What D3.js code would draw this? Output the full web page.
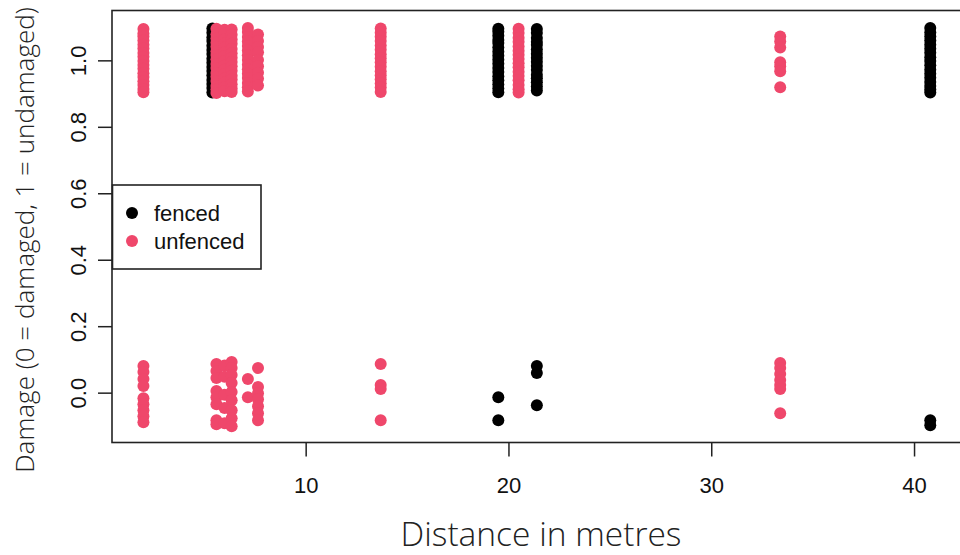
<!DOCTYPE html>
<meta charset="utf-8" />
<title>Damage by distance</title>
<style>
  body { margin: 0; background: #fff; }
  .tick text { font: 22px "Liberation Sans", Arial, sans-serif; fill: #111; }
  .title { font-family: "Open Sans", sans-serif; font-weight: 300; fill: #222; }
  .legend text { font: 22px "Liberation Sans", Arial, sans-serif; fill: #111; }
</style>
<body>
<script src="https://cdn.jsdelivr.net/npm/d3@7"></script>
<script>
  // distances (m) of each column of points, and the jittered damage values in it
  var fencedDist = [5.4, 19.5, 21.4, 40.8];
  var fencedTop = [
    [1.096, 1.083, 1.069, 1.058, 1.044, 1.031, 1.019, 1.005, 0.993, 0.980, 0.968, 0.955, 0.941, 0.929, 0.917, 0.903],
    [1.095, 1.086, 1.074, 1.061, 1.052, 1.039, 1.026, 1.014, 1.002, 0.990, 0.977, 0.965, 0.952, 0.940, 0.927, 0.915, 0.904],
    [1.094, 1.082, 1.067, 1.055, 1.046, 1.033, 1.020, 1.008, 0.996, 0.983, 0.971, 0.957, 0.946, 0.934, 0.921, 0.909],
    [1.097, 1.084, 1.072, 1.060, 1.047, 1.035, 1.023, 1.009, 0.998, 0.985, 0.972, 0.960, 0.948, 0.935, 0.923, 0.912, 0.903]
  ];
  var fencedBottom = [
    [],
    [-0.014, -0.083],
    [0.080, 0.059, -0.038],
    [-0.083, -0.098]
  ];

  var unfencedDist = [2.0, 5.6, 6.0, 6.35, 7.15, 7.65, 13.7, 20.5, 33.4];
  var unfencedTop = [
    [1.094, 1.081, 1.072, 1.060, 1.047, 1.036, 1.022, 1.011, 0.998, 0.986, 0.975, 0.961, 0.950, 0.937, 0.926, 0.914, 0.904],
    [1.095, 1.078, 1.066, 1.053, 1.041, 1.027, 1.016, 1.003, 0.989, 0.977, 0.962, 0.951, 0.938, 0.923, 0.912, 0.902],
    [1.092, 1.080, 1.064, 1.051, 1.039, 1.025, 1.012, 0.997, 0.984, 0.972, 0.958, 0.945, 0.933, 0.920, 0.907],
    [1.093, 1.077, 1.063, 1.050, 1.034, 1.021, 1.008, 0.995, 0.982, 0.969, 0.954, 0.942, 0.928, 0.915, 0.905],
    [1.097, 1.085, 1.070, 1.057, 1.043, 1.030, 1.015, 1.001, 0.987, 0.973, 0.960, 0.947, 0.932, 0.919, 0.906],
    [1.078, 1.058, 1.040, 1.024, 1.001, 0.982, 0.963, 0.945, 0.924],
    [1.096, 1.083, 1.071, 1.058, 1.045, 1.032, 1.018, 1.006, 0.994, 0.981, 0.967, 0.955, 0.943, 0.930, 0.918, 0.905],
    [1.095, 1.082, 1.068, 1.056, 1.042, 1.029, 1.017, 1.004, 0.991, 0.979, 0.966, 0.953, 0.940, 0.926, 0.913, 0.903],
    [1.072, 1.057, 1.039, 0.994, 0.982, 0.967, 0.919]
  ];
  var unfencedBottom = [
    [0.080, 0.062, 0.041, 0.020, -0.017, -0.035, -0.053, -0.071, -0.089],
    [0.086, 0.065, 0.044, 0.005, -0.014, -0.035, -0.083, -0.095],
    [0.082, 0.048, -0.006, -0.046, -0.092],
    [0.092, 0.074, 0.053, 0.029, 0.002, -0.023, -0.053, -0.077, -0.101],
    [0.041, -0.014],
    [0.074, 0.017, -0.002, -0.020, -0.041, -0.062, -0.083],
    [0.086, 0.023, 0.011, -0.083],
    [],
    [0.089, 0.074, 0.056, 0.038, 0.023, 0.011, -0.062]
  ];

  var xTicks = [10, 20, 30, 40];
  var yTicks = [0, 0.2, 0.4, 0.6, 0.8, 1.0];
  var groups = ["fenced", "unfenced"];
  var colors = ["#000000", "#EF476B"];

  var width = 960,
    height = 555,
    margin = { top: 10.5, right: -1.7, bottom: 112.5, left: 112 };

  var x = d3.scaleLinear().domain([0.45, 42.35]).range([margin.left, width - margin.right]);
  var y = d3.scaleLinear().domain([-0.15, 1.15]).range([height - margin.bottom, margin.top]);

  var svg = d3.select("body").append("svg")
    .attr("width", width)
    .attr("height", height);

  function flatten(dist, top, bottom) {
    var pts = [];
    dist.forEach(function (d, i) {
      top[i].forEach(function (v) { pts.push([d, v]); });
      bottom[i].forEach(function (v) { pts.push([d, v]); });
    });
    return pts;
  }

  var series = [
    flatten(fencedDist, fencedTop, fencedBottom),
    flatten(unfencedDist, unfencedTop, unfencedBottom)
  ];

  // points: fenced first, unfenced drawn on top
  series.forEach(function (pts, k) {
    svg.append("g").selectAll("circle")
      .data(pts)
      .join("circle")
      .attr("cx", function (d) { return x(d[0]); })
      .attr("cy", function (d) { return y(d[1]); })
      .attr("r", 6)
      .attr("fill", colors[k]);
  });

  // box
  svg.append("rect")
    .attr("x", x.range()[0])
    .attr("y", y.range()[1])
    .attr("width", x.range()[1] - x.range()[0])
    .attr("height", y.range()[0] - y.range()[1])
    .attr("fill", "none")
    .attr("stroke", "#222")
    .attr("stroke-width", 1.6);

  // x axis
  var xAxis = svg.append("g")
    .attr("transform", "translate(0," + y.range()[0] + ")")
    .call(d3.axisBottom(x).tickValues(xTicks).tickSize(14).tickPadding(21).tickFormat(d3.format("d")));
  xAxis.select(".domain").remove();
  xAxis.selectAll(".tick line").attr("stroke", "#222").attr("stroke-width", 1.5);

  // y axis, labels rotated like base R
  var yAxis = svg.append("g")
    .attr("transform", "translate(" + x.range()[0] + ",0)")
    .call(d3.axisLeft(y).tickValues(yTicks).tickSize(14).tickFormat(d3.format(".1f")));
  yAxis.select(".domain").remove();
  yAxis.selectAll(".tick line").attr("stroke", "#222").attr("stroke-width", 1.5);
  yAxis.selectAll(".tick text")
    .attr("x", null).attr("dy", null)
    .attr("text-anchor", "middle")
    .attr("transform", "translate(-26,0) rotate(-90)");

  // titles
  svg.append("text")
    .attr("class", "title")
    .attr("x", 541)
    .attr("y", 546)
    .attr("text-anchor", "middle")
    .style("font-size", "33.5px")
    .text("Distance in metres");

  svg.append("text")
    .attr("class", "title")
    .attr("transform", "translate(34,240) rotate(-90)")
    .attr("text-anchor", "middle")
    .style("font-size", "26px")
    .text("Damage (0 = damaged, 1 = undamaged)");

  // legend
  var legend = svg.append("g").attr("class", "legend");
  legend.append("rect")
    .attr("x", 112.5).attr("y", 185)
    .attr("width", 148.5).attr("height", 84)
    .attr("fill", "#fff")
    .attr("stroke", "#222")
    .attr("stroke-width", 1.6);
  groups.forEach(function (g, i) {
    legend.append("circle")
      .attr("cx", 132).attr("cy", 213 + i * 28)
      .attr("r", 6).attr("fill", colors[i]);
    legend.append("text")
      .attr("x", 154).attr("y", 213 + i * 28 + 8)
      .text(g);
  });
</script>
</body>
